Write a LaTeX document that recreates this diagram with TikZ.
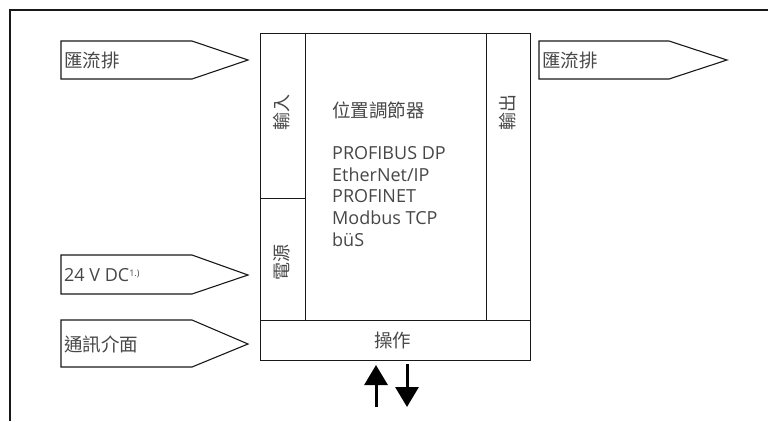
\documentclass[tikz,border=0pt]{standalone}
\usepackage{fontspec}
\setmainfont{Open Sans}
\newfontfamily\cjk{Noto Sans CJK TC}
\usetikzlibrary{arrows.meta}
\begin{document}
\begin{tikzpicture}[x=1pt,y=-1pt,
  frame/.style={line width=1.2pt,draw=black!90},
  part/.style={draw=black!90,line width=1.2pt,inner sep=0pt,anchor=north west},
  pent/.style={draw=black!90,line width=1.1pt,fill=white},
  lbl/.style={anchor=west,inner sep=0pt,text=black!72,font=\fontsize{18}{21}\selectfont},
  clbl/.style={lbl,font=\cjk\fontsize{18.5}{21}\selectfont},
  vlbl/.style={rotate=90,inner sep=0pt,text=black!72,font=\cjk\fontsize{18}{20}\selectfont},
  bigarrow/.style={line width=3pt,-{Triangle[width=23pt,length=20pt]}}]
\useasboundingbox (0,0) rectangle (768,421);
% open frame
\coordinate (fr1) at (10,421);
\coordinate (fr2) at (10,10);
\coordinate (fr3) at (768,10);
\draw[frame] (fr1) -- (fr2) -- (fr3);
% main block
\node[part,minimum width=45pt,minimum height=165pt] (inp) at (260,33) {};
\node[part,minimum width=45pt,minimum height=122pt] (pwr) at (260,198) {};
\node[part,minimum width=181pt,minimum height=287pt] (core) at (305,33) {};
\node[part,minimum width=44pt,minimum height=287pt] (outp) at (486,33) {};
\node[part,minimum width=270pt,minimum height=40pt] (op) at (260,320) {};
\node[vlbl] (tin) at (281.5,112) {輸入};
\node[vlbl] (tpwr) at (281.5,262) {電源};
\node[vlbl] (tout) at (508,112) {輸出};
\node[clbl,anchor=center] (top) at ([xshift=-3pt]op.center) {操作};
\node[clbl] (ttl) at (332,110) {位置調節器};
\node[lbl,anchor=north west,align=left,font=\fontsize{18}{21.8}\selectfont] (prot) at (332,146)
  {PROFIBUS DP\\EtherNet/IP\\PROFINET\\Modbus TCP\\büS};
% pentagon inputs
\draw[pent] (61,41) -- (192,41) -- (248,60) -- (192,79) -- (61,79) -- cycle;
\node[clbl] (bus1) at (64,60) {匯流排};
\draw[pent] (61,255) -- (192,255) -- (248,275) -- (192,294) -- (61,294) -- cycle;
\node[lbl] (dc) at (64,275) {24 V DC\raisebox{5pt}{\fontsize{9}{9}\selectfont 1.)}};
\draw[pent] (61,320) -- (192,320) -- (248,344) -- (192,367) -- (61,367) -- cycle;
\node[clbl] (comm) at (64,344) {通訊介面};
% pentagon output
\draw[pent] (539,41) -- (669,41) -- (727,60) -- (669,79) -- (539,79) -- cycle;
\node[clbl] (bus2) at (542,60) {匯流排};
% operation arrows
\coordinate (ua) at (376,407);
\coordinate (ub) at (376,365);
\coordinate (da) at (407,364);
\coordinate (db) at (407,407);
\draw[bigarrow] (ua) -- (ub);
\draw[bigarrow] (da) -- (db);
\end{tikzpicture}
\end{document}
